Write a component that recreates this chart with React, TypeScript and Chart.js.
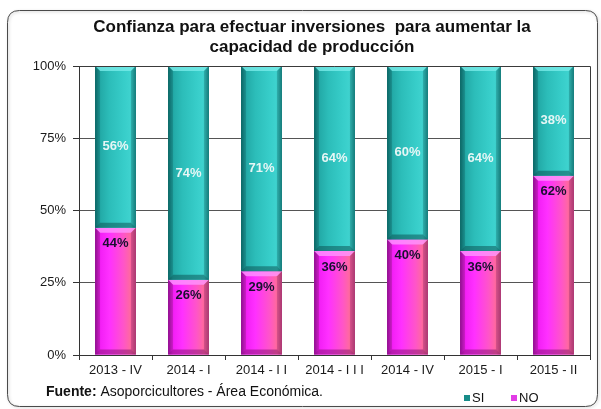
import React, { useEffect, useRef } from "react";
import { Chart, registerables } from "chart.js";

Chart.register(...registerables);

const categories = ["2013 - IV", "2014 - I", "2014 - I I", "2014 - I I I", "2014 - IV", "2015 - I", "2015 - II"];
const siValues = [56, 74, 71, 64, 60, 64, 38];
const noValues = [44, 26, 29, 36, 40, 36, 62];
const yTicks = [0, 25, 50, 75, 100];
const titleLines = ["Confianza para efectuar inversiones  para aumentar la", "capacidad de producción"];
const sourceBold = "Fuente:";
const sourceText = " Asoporcicultores - Área Económica.";

const FONT = "'Liberation Sans', Arial, sans-serif";

function roundRect(ctx: CanvasRenderingContext2D, x: number, y: number, w: number, h: number, r: number) {
  ctx.beginPath();
  ctx.moveTo(x + r, y);
  ctx.lineTo(x + w - r, y);
  ctx.quadraticCurveTo(x + w, y, x + w, y + r);
  ctx.lineTo(x + w, y + h - r);
  ctx.quadraticCurveTo(x + w, y + h, x + w - r, y + h);
  ctx.lineTo(x + r, y + h);
  ctx.quadraticCurveTo(x, y + h, x, y + h - r);
  ctx.lineTo(x, y + r);
  ctx.quadraticCurveTo(x, y, x + r, y);
  ctx.closePath();
}

const palettes: Record<string, any> = {
  SI: {
    stops: ["#0e6b6a", "#22a9a6", "#2cbdb9", "#37cdc9", "#3fd3cf", "#1a8a88"],
    top: "rgba(120,235,232,0.8)",
    bottom: "rgba(10,80,80,0.5)",
    side: "rgba(10,90,90,0.3)",
  },
  NO: {
    stops: ["#9a10a0", "#f21ef5", "#ff30ff", "#ff55c8", "#ff6a9c", "#c04a74"],
    top: "rgba(255,150,255,0.8)",
    bottom: "rgba(130,20,110,0.5)",
    side: "rgba(120,20,100,0.3)",
  },
};

const decorPlugin = {
  id: "decor",
  beforeDraw(chart: any) {
    const ctx = chart.ctx as CanvasRenderingContext2D;
    ctx.save();
    ctx.fillStyle = "#ffffff";
    ctx.fillRect(0, 0, chart.width, chart.height);
    ctx.shadowColor = "rgba(0,0,0,0.25)";
    ctx.shadowBlur = 3;
    ctx.shadowOffsetX = 1;
    ctx.shadowOffsetY = 1;
    roundRect(ctx, 7.5, 10.5, 590, 396, 12);
    ctx.strokeStyle = "#4a4a4a";
    ctx.lineWidth = 1;
    ctx.stroke();
    ctx.restore();

    ctx.save();
    ctx.fillStyle = "#111111";
    ctx.font = `bold 17px ${FONT}`;
    ctx.textAlign = "center";
    ctx.textBaseline = "middle";
    ctx.fillText(titleLines[0], 312, 27);
    ctx.fillText(titleLines[1], 312, 47);

    ctx.textAlign = "left";
    ctx.font = `bold 14px ${FONT}`;
    ctx.fillText(sourceBold, 46, 392);
    const w = ctx.measureText(sourceBold).width;
    ctx.font = `14px ${FONT}`;
    ctx.fillText(sourceText, 46 + w, 392);

    const items = [
      { label: "SI", x: 464, color: "#178c89" },
      { label: "NO", x: 511, color: "#e23ce6" },
    ];
    ctx.font = `13px ${FONT}`;
    items.forEach((it) => {
      ctx.fillStyle = it.color;
      ctx.fillRect(it.x, 395, 6, 6);
      ctx.fillStyle = "#111111";
      ctx.fillText(it.label, it.x + 8, 398);
    });
    ctx.restore();
  },
  afterDatasetsDraw(chart: any) {
    const ctx = chart.ctx as CanvasRenderingContext2D;
    const area = chart.chartArea;
    ctx.save();
    chart.data.datasets.forEach((ds: any, di: number) => {
      const meta = chart.getDatasetMeta(di);
      const pal = palettes[ds.label];
      meta.data.forEach((el: any) => {
        const p = el.getProps(["x", "y", "base", "width"], true);
        const left = p.x - p.width / 2;
        const right = p.x + p.width / 2;
        const top = Math.min(p.y, p.base);
        const bottom = Math.max(p.y, p.base);
        const h = bottom - top;
        const g = ctx.createLinearGradient(left, 0, right, 0);
        const pos = [0, 0.12, 0.35, 0.7, 0.88, 1];
        pal.stops.forEach((c: string, i: number) => g.addColorStop(pos[i], c));
        ctx.fillStyle = g;
        ctx.fillRect(left, top, p.width, h);
        const d = Math.min(5, h / 3);
        ctx.fillStyle = pal.top;
        ctx.beginPath();
        ctx.moveTo(left, top);
        ctx.lineTo(right, top);
        ctx.lineTo(right - d, top + d);
        ctx.lineTo(left + d, top + d);
        ctx.closePath();
        ctx.fill();
        ctx.fillStyle = pal.bottom;
        ctx.beginPath();
        ctx.moveTo(left, bottom);
        ctx.lineTo(right, bottom);
        ctx.lineTo(right - d, bottom - d);
        ctx.lineTo(left + d, bottom - d);
        ctx.closePath();
        ctx.fill();
        ctx.fillStyle = pal.side;
        ctx.beginPath();
        ctx.moveTo(left, top);
        ctx.lineTo(left + d, top + d);
        ctx.lineTo(left + d, bottom - d);
        ctx.lineTo(left, bottom);
        ctx.closePath();
        ctx.fill();
        ctx.beginPath();
        ctx.moveTo(right, top);
        ctx.lineTo(right - d, top + d);
        ctx.lineTo(right - d, bottom - d);
        ctx.lineTo(right, bottom);
        ctx.closePath();
        ctx.fill();
      });
    });

    ctx.strokeStyle = "#3a3a3a";
    ctx.lineWidth = 1;
    ctx.beginPath();
    ctx.moveTo(area.left, Math.round(area.top) + 0.5);
    ctx.lineTo(Math.round(area.right) + 0.5, Math.round(area.top) + 0.5);
    ctx.lineTo(Math.round(area.right) + 0.5, area.bottom);
    ctx.stroke();

    ctx.font = `bold 13px ${FONT}`;
    ctx.textAlign = "center";
    ctx.textBaseline = "middle";
    chart.data.datasets.forEach((ds: any, di: number) => {
      const meta = chart.getDatasetMeta(di);
      meta.data.forEach((el: any, i: number) => {
        const p = el.getProps(["x", "y", "base"], true);
        const top = Math.min(p.y, p.base);
        const bottom = Math.max(p.y, p.base);
        const txt = ds.data[i] + "%";
        if (ds.label === "SI") {
          ctx.fillStyle = "#e6f6f5";
          ctx.fillText(txt, p.x, (top + bottom) / 2);
        } else {
          ctx.fillStyle = "#1a1030";
          ctx.fillText(txt, p.x, top + 16);
        }
      });
    });
    ctx.restore();
  },
};

export default function App() {
  const ref = useRef<HTMLCanvasElement>(null);
  useEffect(() => {
    const canvas = ref.current!;
    const chart = new Chart(canvas, {
      type: "bar",
      data: {
        labels: categories,
        datasets: [
          { label: "NO", data: noValues, backgroundColor: "#ff30ff", borderWidth: 0, stack: "s" },
          { label: "SI", data: siValues, backgroundColor: "#2cbdb9", borderWidth: 0, stack: "s" },
        ],
      },
      options: {
        responsive: false,
        animation: false,
        devicePixelRatio: 1,
        layout: { padding: { top: 66, right: 11, bottom: 29, left: 0 } },
        plugins: {
          legend: { display: false },
          title: { display: false },
          tooltip: { enabled: false },
        },
        datasets: { bar: { categoryPercentage: 0.56, barPercentage: 1 } },
        scales: {
          x: {
            stacked: true,
            afterFit: (s: any) => { s.height = 25; },
            grid: {
              display: true,
              offset: true,
              drawOnChartArea: false,
              drawTicks: true,
              tickLength: 5,
              tickColor: "#333333",
            },
            border: { display: true, color: "#333333" },
            ticks: { color: "#1a1a1a", font: { family: FONT, size: 13 }, padding: 3, maxRotation: 0, autoSkip: false },
          },
          y: {
            stacked: true,
            min: 0,
            max: 100,
            afterFit: (s: any) => { s.width = 79; },
            afterBuildTicks: (s: any) => { s.ticks = yTicks.map((v) => ({ value: v })); },
            grid: {
              color: (c: any) => (c.tick && (c.tick.value === 0 || c.tick.value === 100) ? "rgba(0,0,0,0)" : "#555555"),
              borderDash: [3, 2],
              tickBorderDash: [],
              tickColor: "#333333",
              tickLength: 6,
            },
            border: { display: true, color: "#333333" },
            ticks: {
              color: "#1a1a1a",
              font: { family: FONT, size: 13 },
              padding: 7,
              callback: (v: any) => v + "%",
            },
          },
        },
      },
      plugins: [decorPlugin],
    });
    return () => chart.destroy();
  }, []);
  return (
    <div style={{ position: "absolute", left: 0, top: 0, width: 601, height: 409 }}>
      <canvas ref={ref} width={601} height={409} style={{ display: "block", width: 601, height: 409 }} />
    </div>
  );
}
